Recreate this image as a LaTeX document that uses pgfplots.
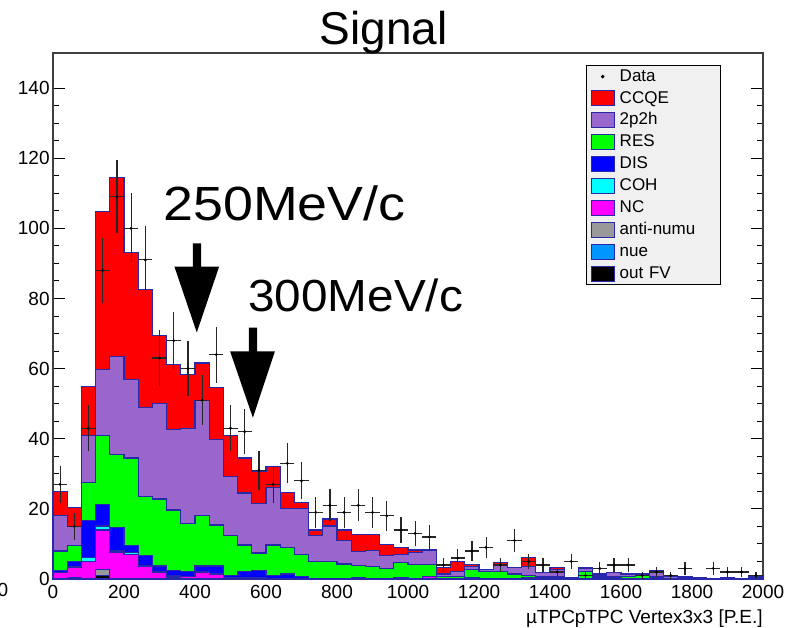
\documentclass[border=0pt]{standalone}
\usepackage{fontspec}
\setmainfont{Liberation Sans}
\usepackage{pgfplots}
\pgfplotsset{compat=1.18}
\usepackage{pgfplotstable}

\definecolor{navyline}{RGB}{40,40,170}
\definecolor{cred}{RGB}{255,0,0}
\definecolor{cpurple}{RGB}{153,102,204}
\definecolor{cgreen}{RGB}{0,255,0}
\definecolor{cblue}{RGB}{0,0,255}
\definecolor{ccyan}{RGB}{0,255,255}
\definecolor{cmag}{RGB}{255,0,255}
\definecolor{cgray}{RGB}{153,153,153}
\definecolor{cnue}{RGB}{0,150,255}
\definecolor{legbg}{RGB}{240,240,240}

% cumulative stack tops (left bin edge)
\pgfplotstableread{
x tot p2h res dis coh nc anti nue ofv
0 25.0 18.0 8.0 2.5 1.9 1.8 0 0 0
40 20.5 15.0 9.5 5.1 3.4 3.3 0.5 0.5 0
80 55.0 41.0 27.5 16.6 6.1 5.1 0 0 0
120 104.8 59.7 40.9 21.3 15.1 14.0 2.8 1.0 1.0
160 114.5 63.5 35.4 14.7 8.1 7.7 0 0 0
200 93.0 57.0 34.5 9.6 7.5 7.1 0 0 0
240 82.6 49.0 23.5 6.6 3.8 3.6 0 0 0
280 69.4 50.0 22.8 3.7 2.1 2.0 0 0 0
320 61.1 42.6 19.7 2.4 0.9 0.8 0.6 0.3 0.3
360 58.3 43.0 15.9 2.1 0.8 0.7 0 0 0
400 61.6 51.0 18.0 3.7 2.1 2.0 0 0 0
440 54.7 39.7 15.4 3.7 1.5 1.4 0 0 0
480 40.9 29.2 12.3 0.9 0.4 0.4 0 0 0
520 34.5 24.5 9.7 2.1 0.5 0.5 0 0 0
560 30.7 21.6 7.4 2.4 0.4 0.4 0.4 0.4 0
600 32.1 26.1 9.7 0.9 0 0 0 0 0
640 24.6 20.2 9.0 1.4 0 0 0 0 0
680 21.8 20.0 6.9 0.7 0 0 0 0 0
720 14.0 12.5 5.0 0.2 0 0 0 0 0
760 17.1 15.1 5.0 0.2 0 0 0 0 0
800 14.0 10.9 4.3 0.1 0 0 0 0 0
840 12.6 7.9 3.8 0.5 0 0 0 0 0
880 12.6 8.1 3.5 0.2 0 0 0 0 0
920 9.9 6.8 3.0 0.2 0 0 0 0 0
960 9.0 7.0 4.7 0.3 0 0 0 0 0
1000 8.3 7.6 4.2 0.2 0 0 0 0 0
1040 8.3 8.1 4.2 0.7 0.7 0.7 0 0 0
1080 3.2 1.4 0.7 0 0 0 0 0 0
1120 5.1 2.1 0.7 0 0 0 0 0 0
1160 4.2 3.5 2.8 0.5 0 0 0 0 0
1200 2.8 2.6 2.1 0 0 0 0 0 0
1240 4.8 3.8 2.1 0 0 0 0 0 0
1280 3.3 3.3 1.4 0 0 0 0 0 0
1320 6.2 3.5 1.1 0.5 0.5 0.5 0 0 0
1360 1.8 1.8 0.6 0.6 0 0 0 0 0
1400 3.3 2.8 0.6 0.6 0 0 0 0 0
1440 0.5 0.5 0 0 0 0 0 0 0
1480 3.3 2.9 2.1 0 0 0 0 0 0
1520 1.4 1.1 0.6 0 0 0 0 0 0
1560 1.9 1.9 0.6 0 0 0 0 0 0
1600 1.4 1.4 0.8 0 0 0 0 0 0
1640 1.4 1.4 1.2 0 0 0 0 0 0
1680 2.4 2.3 0.6 0 0 0 0 0 0
1720 0.7 0.7 0 0 0 0 0 0 0
1760 0.7 0.7 0 0.5 0 0 0 0 0
1800 0.5 0 0 0 0 0 0 0 0
1840 0 0 0 0 0 0 0 0 0
1880 0.5 0.5 0 0 0 0 0 0 0
1920 0 0 0 0 0 0 0 0 0
1960 0.9 0.6 0 0 0 0 0 0 0
2000 0.9 0.6 0 0 0 0 0 0 0
}\hist

\pgfplotstableread{
x y ex ey
20 27 20 5.20
60 15 20 3.87
100 43 20 6.56
140 88 20 9.38
180 109 20 10.44
220 100 20 10.00
260 91 20 9.54
300 63 20 7.94
340 68 20 8.25
380 60 20 7.75
420 51 20 7.14
460 64 20 8.00
500 43 20 6.56
540 42 20 6.48
580 31 20 5.57
620 27 20 5.20
660 33 20 5.74
700 28 20 5.29
740 19 20 4.36
780 21 20 4.58
820 19 20 4.36
860 21 20 4.58
900 19 20 4.36
940 18 20 4.24
980 14 20 3.74
1020 13 20 3.61
1060 12 20 3.46
1100 4 20 2.00
1140 6 20 2.45
1180 8 20 2.83
1220 9 20 3.00
1260 4 20 2.00
1300 11 20 3.32
1340 5 20 2.24
1380 4 20 2.00
1420 2 20 1.41
1460 5 20 2.24
1500 1 20 1.00
1540 3 20 1.73
1580 4 20 2.00
1620 4 20 2.00
1660 1 20 1.00
1700 2 20 1.41
1740 1 20 1.00
1780 3 20 1.73
1860 3 20 1.73
1900 2 20 1.41
1940 2 20 1.41
1980 1 20 1.00
}\dat

\begin{document}
\begin{tikzpicture}
\begin{axis}[
  at={(26.5pt,24pt)}, anchor=south west,
  width=355pt, height=263pt, scale only axis,
  clip=false,
  xmin=0, xmax=2000, ymin=0, ymax=150,
  xtick={0,200,...,2000}, ytick={0,20,...,140},
  minor y tick num=3,
  tick align=inside,
  xtick style={draw=none},
  ytick style={black, line width=0.5pt},
  major tick length=6pt, minor tick length=3pt,
  axis line style={black!75, line width=0.6pt},
  tick label style={font=\fontsize{9.5}{11}\selectfont},
  /pgf/number format/assume math mode=true,
  /pgf/number format/1000 sep={},
  yticklabel style={inner sep=1.5pt},
  xticklabel style={inner sep=3pt},
  xlabel={µTPCpTPC Vertex3x3 [P.E.]},
  xlabel style={at={(1,0)}, anchor=base east, yshift=-22pt, inner sep=0pt, font=\fontsize{9.5}{11}\selectfont},
  const plot mark left,
  legend image code/.code={\draw[#1, line width=0.5pt] (0pt,-3.75pt) rectangle (11.5pt,3.75pt);},
  legend cell align=left,
  legend style={at={(0.751,0.977)}, anchor=north west, fill=legbg, draw=black, line width=0.5pt,
    inner xsep=2pt, inner ysep=1.5pt, row sep=2.95pt, column sep=2.5pt,
    font=\fontsize{8.5}{10}\selectfont,
    nodes={inner sep=0pt, text height=6.3pt, text depth=1.7pt, text width=48.5pt}},
]
\addlegendimage{legend image code/.code={\fill[black] (5.75pt,0pt) circle (0.6pt);}}
\addlegendentry{Data}
\addplot[fill=cred, draw=navyline, line width=0.6pt] table[x=x,y=tot] {\hist} \closedcycle;
\addlegendentry{CCQE}
\addplot[fill=cpurple, draw=navyline, line width=0.6pt] table[x=x,y=p2h] {\hist} \closedcycle;
\addlegendentry{2p2h}
\addplot[fill=cgreen, draw=navyline, line width=0.6pt] table[x=x,y=res] {\hist} \closedcycle;
\addlegendentry{RES}
\addplot[fill=cblue, draw=navyline, line width=0.6pt] table[x=x,y=dis] {\hist} \closedcycle;
\addlegendentry{DIS}
\addplot[fill=ccyan, draw=navyline, line width=0.6pt] table[x=x,y=coh] {\hist} \closedcycle;
\addlegendentry{COH}
\addplot[fill=cmag, draw=navyline, line width=0.6pt] table[x=x,y=nc] {\hist} \closedcycle;
\addlegendentry{NC}
\addplot[fill=cgray, draw=navyline, line width=0.6pt] table[x=x,y=anti] {\hist} \closedcycle;
\addlegendentry{anti-numu}
\addplot[fill=cnue, draw=navyline, line width=0.6pt] table[x=x,y=nue] {\hist} \closedcycle;
\addlegendentry{nue}
\addplot[fill=black, draw=navyline, line width=0.6pt] table[x=x,y=ofv] {\hist} \closedcycle;
\addlegendentry{out FV}

\addplot[forget plot, only marks, mark=*, mark size=0.5pt, black,
  error bars/.cd, x dir=both, x explicit, y dir=both, y explicit,
  error mark=none, error bar style={line width=0.6pt, black!85}]
  table[x=x, y=y, x error=ex, y error=ey] {\dat};

% arrows
\fill[black] (axis cs:394,95.7) -- (axis cs:417,95.7) -- (axis cs:417,89.1) -- (axis cs:468,89.1)
  -- (axis cs:405,70.3) -- (axis cs:342,89.1) -- (axis cs:394,89.1) -- cycle;
\fill[black] (axis cs:552,71.7) -- (axis cs:575,71.7) -- (axis cs:575,64.9) -- (axis cs:625,64.9)
  -- (axis cs:563,46) -- (axis cs:499,64.9) -- (axis cs:552,64.9) -- cycle;
\node[anchor=base west, inner sep=0pt, font=\fontsize{24}{28}\selectfont] at (axis cs:310,102.3) {\scalebox{1.12}[1]{250MeV/c}};
\node[anchor=base west, inner sep=0pt, font=\fontsize{22.5}{26}\selectfont] at (axis cs:549,76.3) {\scalebox{1.06}[1]{300MeV/c}};
\node[anchor=base, inner sep=0pt, font=\fontsize{23}{27}\selectfont] at (rel axis cs:0.466,1) [yshift=4pt] {Signal};
\node[inner sep=0pt, font=\fontsize{9.5}{11}\selectfont] at (rel axis cs:-0.0704,-0.021) {0};
\end{axis}
\pgfresetboundingbox
\path (0,0) rectangle (392.5pt,313.5pt);
\end{tikzpicture}
\end{document}
